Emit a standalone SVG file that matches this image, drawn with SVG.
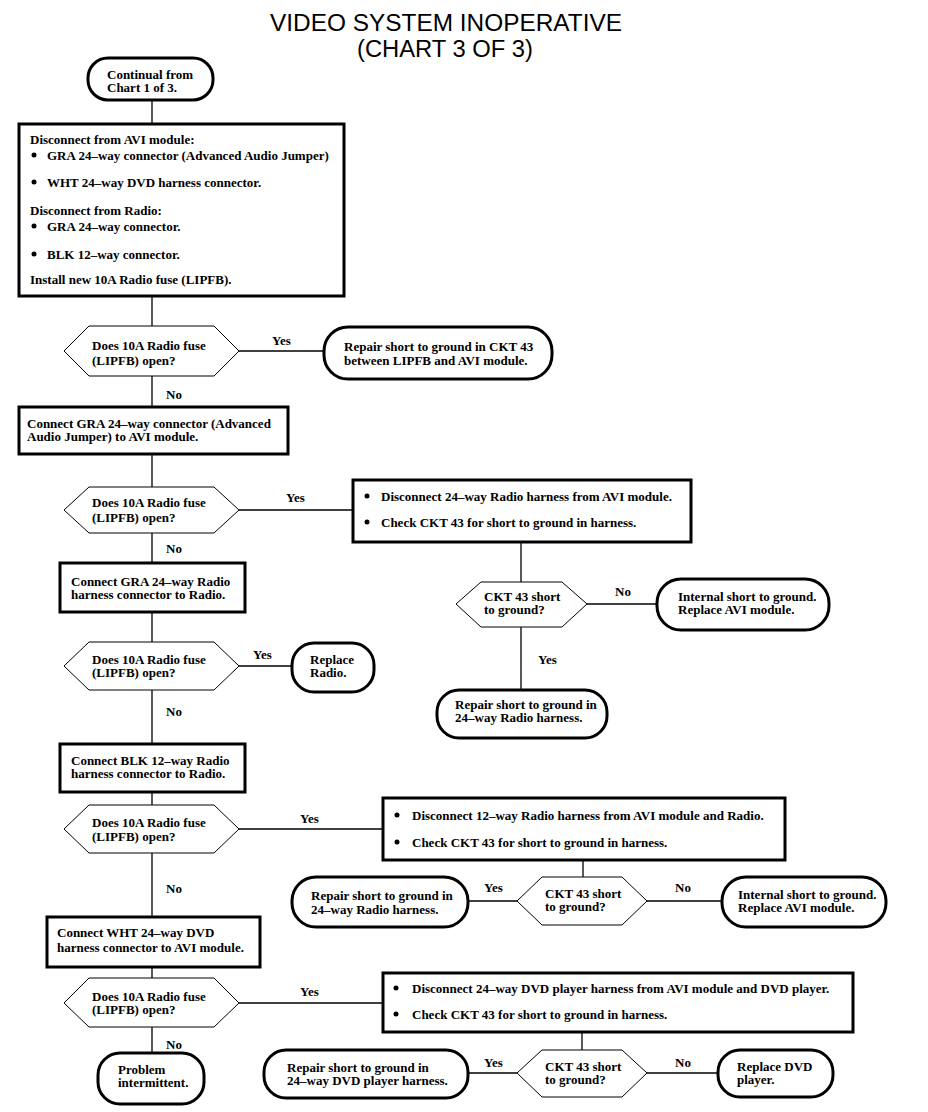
<svg xmlns="http://www.w3.org/2000/svg" width="928" height="1112" viewBox="0 0 928 1112">
<style>
text{font-family:"Liberation Serif","Times New Roman",serif;font-size:13px;font-weight:bold;fill:#000}
.title{font-family:"Liberation Sans",Arial,sans-serif;font-size:23px;font-weight:normal;text-anchor:middle}
.box{fill:#fff;stroke:#000;stroke-width:3}
.term{fill:#fff;stroke:#000;stroke-width:3}
.dec{fill:#fff;stroke:#000;stroke-width:1}
.conn line{stroke:#000;stroke-width:1.3}
.dot{fill:#000}
</style>
<rect width="928" height="1112" fill="#fff"/>
<g id="title">
<text class="title" x="446" y="31" textLength="352" lengthAdjust="spacingAndGlyphs">VIDEO SYSTEM INOPERATIVE</text>
<text class="title" x="445" y="57" textLength="176" lengthAdjust="spacingAndGlyphs">(CHART 3 OF 3)</text>
</g>
<g id="connectors" class="conn">
<line x1="152" y1="100" x2="152" y2="124"/>
<line x1="152" y1="296" x2="152" y2="326"/>
<line x1="239" y1="351" x2="324" y2="351"/>
<line x1="152" y1="376" x2="152" y2="407"/>
<line x1="152" y1="454" x2="152" y2="487"/>
<line x1="239" y1="510" x2="353" y2="510"/>
<line x1="152" y1="533" x2="152" y2="563"/>
<line x1="152" y1="612" x2="152" y2="642"/>
<line x1="239" y1="666" x2="292" y2="666"/>
<line x1="521" y1="542" x2="521" y2="582"/>
<line x1="587" y1="604" x2="657" y2="604"/>
<line x1="521" y1="627" x2="521" y2="690"/>
<line x1="152" y1="690" x2="152" y2="744"/>
<line x1="152" y1="792" x2="152" y2="805"/>
<line x1="239" y1="829" x2="383" y2="829"/>
<line x1="583" y1="860" x2="583" y2="877"/>
<line x1="517" y1="901" x2="468" y2="901"/>
<line x1="647" y1="901" x2="722" y2="901"/>
<line x1="152" y1="853" x2="152" y2="917"/>
<line x1="152" y1="967" x2="152" y2="978"/>
<line x1="239" y1="1003" x2="383" y2="1003"/>
<line x1="582" y1="1032" x2="582" y2="1050"/>
<line x1="517" y1="1073" x2="468" y2="1073"/>
<line x1="647" y1="1073" x2="718" y2="1073"/>
<line x1="152" y1="1027" x2="152" y2="1053"/>
</g>
<g id="labels">
<text x="272" y="345">Yes</text>
<text x="166" y="399">No</text>
<text x="286" y="502">Yes</text>
<text x="166" y="553">No</text>
<text x="253" y="659">Yes</text>
<text x="615" y="596">No</text>
<text x="538" y="664">Yes</text>
<text x="166" y="716">No</text>
<text x="300" y="823">Yes</text>
<text x="484" y="892">Yes</text>
<text x="675" y="892">No</text>
<text x="166" y="893">No</text>
<text x="300" y="996">Yes</text>
<text x="484" y="1067">Yes</text>
<text x="675" y="1067">No</text>
<text x="166" y="1049">No</text>
</g>
<g id="start">
<rect class="term" x="88" y="58" width="125" height="42" rx="20"/>
<text x="107" y="79">Continual from</text>
<text x="107" y="92">Chart 1 of 3.</text>
</g>
<g id="step1">
<rect class="box" x="19" y="124" width="325" height="172"/>
<text x="30" y="144">Disconnect from AVI module:</text>
<circle class="dot" cx="34" cy="155" r="2.5"/>
<text x="47" y="160">GRA 24–way connector (Advanced Audio Jumper)</text>
<circle class="dot" cx="34" cy="182" r="2.5"/>
<text x="47" y="187">WHT 24–way DVD harness connector.</text>
<text x="30" y="215">Disconnect from Radio:</text>
<circle class="dot" cx="34" cy="226" r="2.5"/>
<text x="47" y="231">GRA 24–way connector.</text>
<circle class="dot" cx="34" cy="254" r="2.5"/>
<text x="47" y="259">BLK 12–way connector.</text>
<text x="30" y="284">Install new 10A Radio fuse (LIPFB).</text>
</g>
<g id="dec1">
<polygon class="dec" points="64,351 89,326 214,326 239,351 214,376 89,376"/>
<text x="92" y="350">Does 10A Radio fuse</text>
<text x="92" y="365">(LIPFB) open?</text>
</g>
<g id="repair1">
<rect class="term" x="324" y="327" width="228" height="52" rx="24"/>
<text x="344" y="351">Repair short to ground in CKT 43</text>
<text x="344" y="365">between LIPFB and AVI module.</text>
</g>
<g id="step2">
<rect class="box" x="19" y="407" width="269" height="47"/>
<text x="27" y="428">Connect GRA 24–way connector (Advanced</text>
<text x="27" y="441">Audio Jumper) to AVI module.</text>
</g>
<g id="dec2">
<polygon class="dec" points="64,510 89,487 214,487 239,510 214,533 89,533"/>
<text x="92" y="507">Does 10A Radio fuse</text>
<text x="92" y="522">(LIPFB) open?</text>
</g>
<g id="step3">
<rect class="box" x="353" y="480" width="338" height="62"/>
<circle class="dot" cx="367" cy="496" r="2.5"/>
<text x="381" y="501">Disconnect 24–way Radio harness from AVI module.</text>
<circle class="dot" cx="367" cy="522" r="2.5"/>
<text x="381" y="527">Check CKT 43 for short to ground in harness.</text>
</g>
<g id="step4">
<rect class="box" x="60" y="563" width="185" height="49"/>
<text x="71" y="586">Connect GRA 24–way Radio</text>
<text x="71" y="599">harness connector to Radio.</text>
</g>
<g id="dec3">
<polygon class="dec" points="64,666 89,642 214,642 239,666 214,690 89,690"/>
<text x="92" y="664">Does 10A Radio fuse</text>
<text x="92" y="677">(LIPFB) open?</text>
</g>
<g id="replaceRadio">
<rect class="term" x="292" y="643" width="82" height="49" rx="22"/>
<text x="310" y="664">Replace</text>
<text x="310" y="677">Radio.</text>
</g>
<g id="dec4">
<polygon class="dec" points="456,604 481,582 562,582 587,604 562,627 481,627"/>
<text x="484" y="601">CKT 43 short</text>
<text x="484" y="614">to ground?</text>
</g>
<g id="internal1">
<rect class="term" x="657" y="579" width="172" height="51" rx="24"/>
<text x="678" y="601">Internal short to ground.</text>
<text x="678" y="614">Replace AVI module.</text>
</g>
<g id="repair2">
<rect class="term" x="437" y="690" width="170" height="48" rx="22"/>
<text x="455" y="709">Repair short to ground in</text>
<text x="455" y="722">24–way Radio harness.</text>
</g>
<g id="step5">
<rect class="box" x="60" y="744" width="185" height="48"/>
<text x="71" y="765">Connect BLK 12–way Radio</text>
<text x="71" y="778">harness connector to Radio.</text>
</g>
<g id="dec5">
<polygon class="dec" points="64,829 89,805 214,805 239,829 214,853 89,853"/>
<text x="92" y="827">Does 10A Radio fuse</text>
<text x="92" y="841">(LIPFB) open?</text>
</g>
<g id="step6">
<rect class="box" x="383" y="798" width="402" height="62"/>
<circle class="dot" cx="397" cy="815" r="2.5"/>
<text x="412" y="820">Disconnect 12–way Radio harness from AVI module and Radio.</text>
<circle class="dot" cx="397" cy="842" r="2.5"/>
<text x="412" y="847">Check CKT 43 for short to ground in harness.</text>
</g>
<g id="dec6">
<polygon class="dec" points="517,901 542,877 622,877 647,901 622,925 542,925"/>
<text x="545" y="898">CKT 43 short</text>
<text x="545" y="911">to ground?</text>
</g>
<g id="repair3">
<rect class="term" x="292" y="877" width="176" height="50" rx="24"/>
<text x="311" y="900">Repair short to ground in</text>
<text x="311" y="914">24–way Radio harness.</text>
</g>
<g id="internal2">
<rect class="term" x="722" y="877" width="164" height="50" rx="24"/>
<text x="738" y="899">Internal short to ground.</text>
<text x="738" y="912">Replace AVI module.</text>
</g>
<g id="step7">
<rect class="box" x="47" y="917" width="213" height="50"/>
<text x="57" y="937">Connect WHT 24–way DVD</text>
<text x="57" y="952">harness connector to AVI module.</text>
</g>
<g id="dec7">
<polygon class="dec" points="64,1003 89,978 214,978 239,1003 214,1027 89,1027"/>
<text x="92" y="1001">Does 10A Radio fuse</text>
<text x="92" y="1014">(LIPFB) open?</text>
</g>
<g id="step8">
<rect class="box" x="383" y="973" width="470" height="59"/>
<circle class="dot" cx="396" cy="988" r="2.5"/>
<text x="412" y="993">Disconnect 24–way DVD player harness from AVI module and DVD player.</text>
<circle class="dot" cx="396" cy="1014" r="2.5"/>
<text x="412" y="1019">Check CKT 43 for short to ground in harness.</text>
</g>
<g id="dec8">
<polygon class="dec" points="517,1073 542,1050 622,1050 647,1073 622,1097 542,1097"/>
<text x="545" y="1071">CKT 43 short</text>
<text x="545" y="1084">to ground?</text>
</g>
<g id="repair4">
<rect class="term" x="264" y="1050" width="204" height="48" rx="22"/>
<text x="287" y="1072">Repair short to ground in</text>
<text x="287" y="1085">24–way DVD player harness.</text>
</g>
<g id="replaceDVD">
<rect class="term" x="718" y="1050" width="115" height="47" rx="22"/>
<text x="737" y="1071">Replace DVD</text>
<text x="737" y="1084">player.</text>
</g>
<g id="intermittent">
<rect class="term" x="98" y="1053" width="106" height="51" rx="22"/>
<text x="118" y="1074">Problem</text>
<text x="118" y="1087">intermittent.</text>
</g>
</svg>
